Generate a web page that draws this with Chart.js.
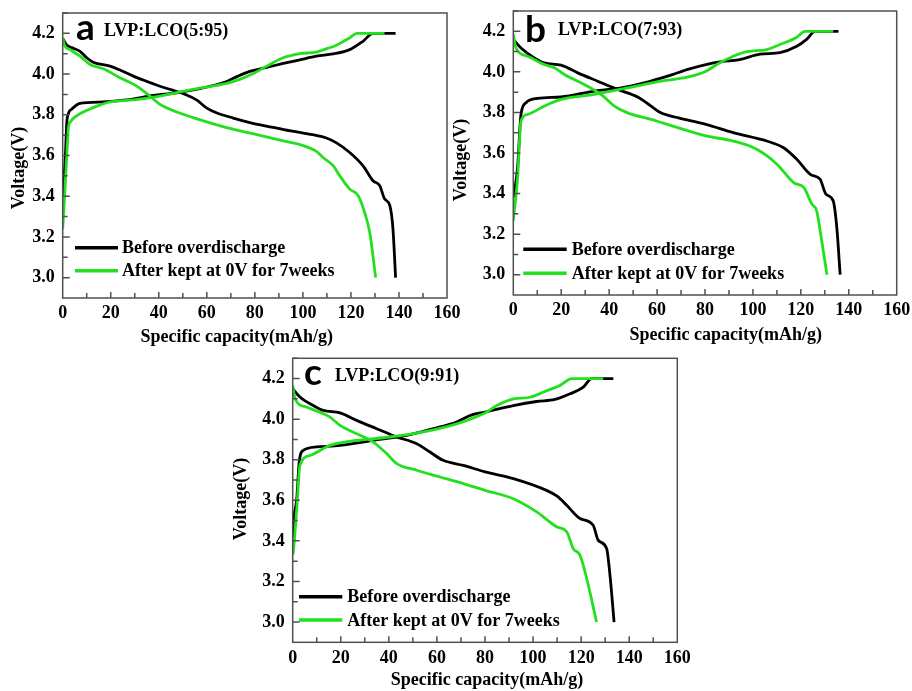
<!DOCTYPE html>
<html>
<head>
<meta charset="utf-8">
<script src="https://cdn.jsdelivr.net/npm/chart.js@4.4.1/dist/chart.umd.min.js"></script>
<style>
  html, body { margin: 0; padding: 0; background: #fff; }
  body { width: 912px; height: 691px; position: relative; overflow: hidden; }
  canvas { position: absolute; }
</style>
</head>
<body>
<canvas id="chartA" width="470" height="350" style="left:0px;top:0px"></canvas>
<canvas id="chartB" width="472" height="350" style="left:440px;top:0px"></canvas>
<canvas id="chartC" width="470" height="351" style="left:220px;top:340px"></canvas>
<script>
// axis ticks
const xTickLabels = [0, 20, 40, 60, 80, 100, 120, 140, 160];
const yTickLabels = [3.0, 3.2, 3.4, 3.6, 3.8, 4.0, 4.2];
const seriesNames = ["Before overdischarge", "After kept at 0V for 7weeks"];

// panel a  LVP:LCO(5:95)   [capacity mAh/g, voltage V]
const aBeforeCharge = [[0,3.40],[0.5,3.48],[1.2,3.62],[1.7,3.76],[2.5,3.81],[3.7,3.827],[7.2,3.856],[16.9,3.863],[26.6,3.873],[37.7,3.895],[47.4,3.908],[57.1,3.928],[63,3.945],[68,3.962],[73,3.99],[77.9,4.013],[84,4.03],[91.8,4.052],[98.7,4.07],[105.6,4.088],[112.6,4.099],[119.5,4.12],[125,4.161],[129.2,4.2],[138.6,4.2]];
const aBeforeDischarge = [[0,4.175],[1.5,4.145],[3.7,4.13],[7.2,4.112],[10,4.08],[12.7,4.058],[19.7,4.039],[23.8,4.02],[29.4,3.99],[35,3.964],[40.5,3.94],[46,3.92],[51.6,3.897],[55.7,3.873],[60,3.833],[64,3.81],[71,3.784],[77.9,3.762],[87.6,3.738],[92,3.727],[98,3.715],[104,3.702],[109.8,3.686],[114,3.662],[119.5,3.615],[125,3.55],[129.2,3.476],[132,3.452],[134,3.387],[136.2,3.354],[137.5,3.24],[138.6,3.0]];
const aAfterCharge = [[0,3.24],[0.8,3.40],[1.7,3.6],[2.4,3.74],[3.0,3.762],[5.8,3.795],[12.7,3.835],[19.7,3.863],[29.4,3.873],[40.5,3.892],[54.3,3.925],[62,3.94],[68.2,3.954],[74,3.975],[80,4.006],[84.9,4.039],[91.8,4.08],[98.7,4.1],[105.6,4.108],[110,4.125],[114,4.142],[119.5,4.178],[122.5,4.2],[134,4.2]];
const aAfterDischarge = [[0,4.178],[0.8,4.14],[3,4.12],[7.2,4.088],[11.4,4.047],[16.9,4.026],[23.8,3.982],[30.8,3.941],[36.3,3.892],[40.5,3.851],[44.6,3.827],[54.3,3.786],[68.2,3.737],[80,3.705],[91.8,3.672],[98.7,3.654],[105.6,3.62],[108.4,3.59],[112.6,3.55],[115.3,3.501],[119.5,3.435],[123,3.403],[125.7,3.32],[127.8,3.224],[130.3,3.0]];

// panel b  LVP:LCO(7:93)
const bBeforeCharge = [[0,3.38],[0.5,3.41],[1.8,3.53],[3.2,3.79],[5.3,3.848],[10.2,3.869],[19.9,3.876],[33.8,3.905],[45,3.921],[54.7,3.946],[64.4,3.979],[72.8,4.012],[80.4,4.036],[87,4.05],[94,4.059],[103,4.087],[111.3,4.095],[118.3,4.126],[122.4,4.16],[125.9,4.2],[135.7,4.2]];
const bBeforeDischarge = [[0,4.16],[3.2,4.118],[8.8,4.069],[12.9,4.044],[19.9,4.033],[26.9,3.995],[35.2,3.954],[43.6,3.913],[51.9,3.876],[57.5,3.831],[61.6,3.798],[68.6,3.774],[80.4,3.741],[91.8,3.70],[105.8,3.659],[112.8,3.626],[118.3,3.569],[123.9,3.495],[128,3.471],[130.5,3.397],[133.5,3.364],[135,3.233],[136.4,3.0]];
const bAfterCharge = [[0,3.266],[1.8,3.479],[3.2,3.757],[6,3.79],[12.9,3.831],[19.9,3.864],[33.8,3.889],[47.7,3.921],[61.6,3.954],[73,3.975],[80.4,4.003],[84.9,4.036],[91.8,4.077],[97.4,4.1],[105.8,4.11],[111.3,4.135],[118.3,4.171],[121.7,4.2],[133.5,4.2]];
const bAfterDischarge = [[0,4.184],[1.1,4.118],[6,4.077],[12.9,4.036],[17.1,4.02],[21.3,3.987],[29.6,3.938],[36.6,3.889],[42.2,3.831],[47.7,3.798],[57.5,3.766],[68.6,3.725],[80.4,3.684],[91.8,3.659],[101.6,3.618],[110,3.545],[117,3.454],[121.2,3.43],[124.6,3.348],[126.6,3.315],[128.7,3.167],[130.9,3.0]];

// panel c  LVP:LCO(9:91)
const cBeforeCharge = [[0,3.40],[0.25,3.477],[1.7,3.608],[2.7,3.789],[4.4,3.846],[10,3.863],[19.7,3.871],[33.5,3.895],[47.4,3.92],[58.5,3.953],[68.2,3.986],[74.5,4.021],[80,4.035],[91.8,4.067],[101.5,4.087],[109.1,4.097],[115.4,4.125],[120.9,4.158],[124.4,4.2],[133.4,4.2]];
const cBeforeDischarge = [[0,4.15],[3,4.109],[8.6,4.067],[12.7,4.043],[19.7,4.031],[26.6,3.994],[34.9,3.953],[43.3,3.912],[51.6,3.879],[57.1,3.838],[62.6,3.797],[71,3.772],[80,3.74],[91.8,3.707],[105.6,3.649],[110,3.62],[114,3.575],[119.5,3.51],[125,3.477],[127.1,3.403],[130.6,3.362],[132,3.23],[133.7,3.0]];
const cAfterCharge = [[0,3.33],[0.25,3.346],[1.7,3.56],[3,3.772],[7.2,3.821],[15.5,3.871],[26.6,3.895],[40.5,3.912],[54.3,3.937],[68.2,3.977],[76,4.01],[80,4.03],[84.9,4.067],[91.8,4.1],[98.7,4.108],[105.6,4.14],[111.2,4.166],[116.1,4.2],[129.2,4.2]];
const cAfterDischarge = [[0,4.166],[1,4.1],[5.8,4.059],[12.7,4.027],[15.5,4.01],[19.7,3.969],[26.6,3.928],[33.5,3.887],[39.1,3.83],[43.3,3.781],[51.6,3.748],[61.3,3.715],[71,3.682],[80,3.649],[91.8,3.608],[101.5,3.543],[109.8,3.47],[114,3.445],[116.7,3.362],[119.5,3.33],[122.3,3.215],[126.4,3.0]];

const BLACK = "#000000";
const GREEN = "#22e01e";
const FRAME = "#505050";
const SERIF = "'Liberation Serif', 'Times New Roman', serif";

// draws frame, inward ticks, panel letter, label, legend and axis titles
const panelDecor = {
  id: "panelDecor",
  afterDraw(chart, args, o) {
    const { ctx, chartArea: a } = chart;
    const xs = chart.scales.x, ys = chart.scales.y;
    const ox = o.origin[0], oy = o.origin[1];
    ctx.save();

    ctx.strokeStyle = FRAME;
    ctx.lineWidth = 1.5;
    ctx.strokeRect(a.left, a.top, a.right - a.left, a.bottom - a.top);

    ctx.beginPath();
    for (let v = 10; v < 160; v += 10) {
      const px = xs.getPixelForValue(v);
      const len = v % 20 === 0 ? 6 : 5;
      ctx.moveTo(px, a.bottom);
      ctx.lineTo(px, a.bottom - len);
    }
    for (let i = 0; i <= 13; i++) {
      const v = 3.0 + i * 0.1;
      const py = ys.getPixelForValue(v);
      ctx.moveTo(a.left, py);
      ctx.lineTo(a.left + (i % 2 === 0 ? 7 : 5), py);
    }
    ctx.stroke();

    ctx.fillStyle = "#000";
    ctx.textAlign = "left";
    ctx.textBaseline = "alphabetic";
    ctx.font = "bold 37px Lato, 'Open Sans', sans-serif";
    ctx.fillText(o.letter, o.letterPos[0] - ox, o.letterPos[1] - oy);

    ctx.font = "bold 18px " + SERIF;
    ctx.textBaseline = "middle";
    ctx.fillText(o.label, o.labelPos[0] - ox, o.labelPos[1] - oy);

    // legend
    const lg = o.legend;
    const entries = [
      { name: seriesNames[0], color: BLACK, y: lg.y[0] },
      { name: seriesNames[1], color: GREEN, y: lg.y[1] },
    ];
    entries.forEach((e) => {
      ctx.strokeStyle = e.color;
      ctx.lineWidth = 3.5;
      ctx.beginPath();
      ctx.moveTo(lg.x0 - ox, e.y - oy);
      ctx.lineTo(lg.x1 - ox, e.y - oy);
      ctx.stroke();
      ctx.fillStyle = "#000";
      ctx.fillText(e.name, lg.tx - ox, e.y - oy + 1);
    });

    // axis titles
    ctx.textAlign = "center";
    ctx.fillText("Specific capacity(mAh/g)", o.xTitle[0] - ox, o.xTitle[1] - oy);
    ctx.translate(o.yTitle[0] - ox, o.yTitle[1] - oy);
    ctx.rotate(-Math.PI / 2);
    ctx.fillText("Voltage(V)", 0, 0);
    ctx.restore();
  },
};

function pts(arr) {
  return arr.map((p) => ({ x: p[0], y: p[1] }));
}

function line(data, color) {
  return {
    data: pts(data),
    borderColor: color,
    backgroundColor: color,
    borderWidth: 2.8,
    pointRadius: 0,
    fill: false,
    cubicInterpolationMode: "monotone",
  };
}

function makePanel(canvasId, box, curves, decor) {
  const cv = document.getElementById(canvasId);
  const W = cv.width, H = cv.height;
  const tickFont = { family: SERIF, weight: "bold", size: 18 };
  return new Chart(cv, {
    type: "line",
    data: {
      datasets: [
        line(curves.afterCharge, GREEN),
        line(curves.afterDischarge, GREEN),
        line(curves.beforeCharge, BLACK),
        line(curves.beforeDischarge, BLACK),
      ],
    },
    options: {
      responsive: false,
      animation: false,
      layout: { padding: { left: 0, top: box.top, right: W - box.right, bottom: 0 } },
      plugins: {
        legend: { display: false },
        tooltip: { enabled: false },
        panelDecor: decor,
      },
      scales: {
        x: {
          type: "linear",
          min: 0,
          max: 160,
          grid: { display: false, drawTicks: false },
          border: { display: false },
          afterBuildTicks: (s) => { s.ticks = xTickLabels.map((v) => ({ value: v })); },
          afterFit: (s) => {
            s.height = H - box.bottom;
            s.paddingLeft = 0; s.paddingRight = 0;
          },
          ticks: { font: tickFont, color: "#000", padding: 5, maxRotation: 0, autoSkip: false },
        },
        y: {
          type: "linear",
          min: 2.9,
          max: 4.3,
          grid: { display: false, drawTicks: false },
          border: { display: false },
          afterBuildTicks: (s) => { s.ticks = yTickLabels.map((v) => ({ value: v })); },
          afterFit: (s) => {
            s.width = box.left;
            s.paddingTop = 0; s.paddingBottom = 0;
          },
          ticks: { font: tickFont, color: "#000", padding: 8, callback: (v) => Number(v).toFixed(1) },
        },
      },
    },
    plugins: [panelDecor],
  });
}

makePanel("chartA", { left: 62.7, top: 13, right: 447, bottom: 298 },
  { beforeCharge: aBeforeCharge, beforeDischarge: aBeforeDischarge, afterCharge: aAfterCharge, afterDischarge: aAfterDischarge },
  { origin: [0, 0], letter: "a", letterPos: [76, 40], label: "LVP:LCO(5:95)", labelPos: [104, 31.5],
    legend: { x0: 75, x1: 118, tx: 122, y: [247.7, 270.7] }, xTitle: [236.7, 337.3], yTitle: [19, 168] });

makePanel("chartB", { left: 73.3, top: 11, right: 456.7, bottom: 295 },
  { beforeCharge: bBeforeCharge, beforeDischarge: bBeforeDischarge, afterCharge: bAfterCharge, afterDischarge: bAfterDischarge },
  { origin: [440, 0], letter: "b", letterPos: [525, 42], label: "LVP:LCO(7:93)", labelPos: [558, 30],
    legend: { x0: 523.3, x1: 566.7, tx: 571.7, y: [249.3, 273.3] }, xTitle: [725.8, 335], yTitle: [461.5, 160] });

makePanel("chartC", { left: 72.7, top: 18.3, right: 457.3, bottom: 302.3 },
  { beforeCharge: cBeforeCharge, beforeDischarge: cBeforeDischarge, afterCharge: cAfterCharge, afterDischarge: cAfterDischarge },
  { origin: [220, 340], letter: "c", letterPos: [304, 385], label: "LVP:LCO(9:91)", labelPos: [335, 376],
    legend: { x0: 299, x1: 342.3, tx: 347.3, y: [596.7, 620] }, xTitle: [487, 680.7], yTitle: [241.7, 499] });
</script>
</body>
</html>
